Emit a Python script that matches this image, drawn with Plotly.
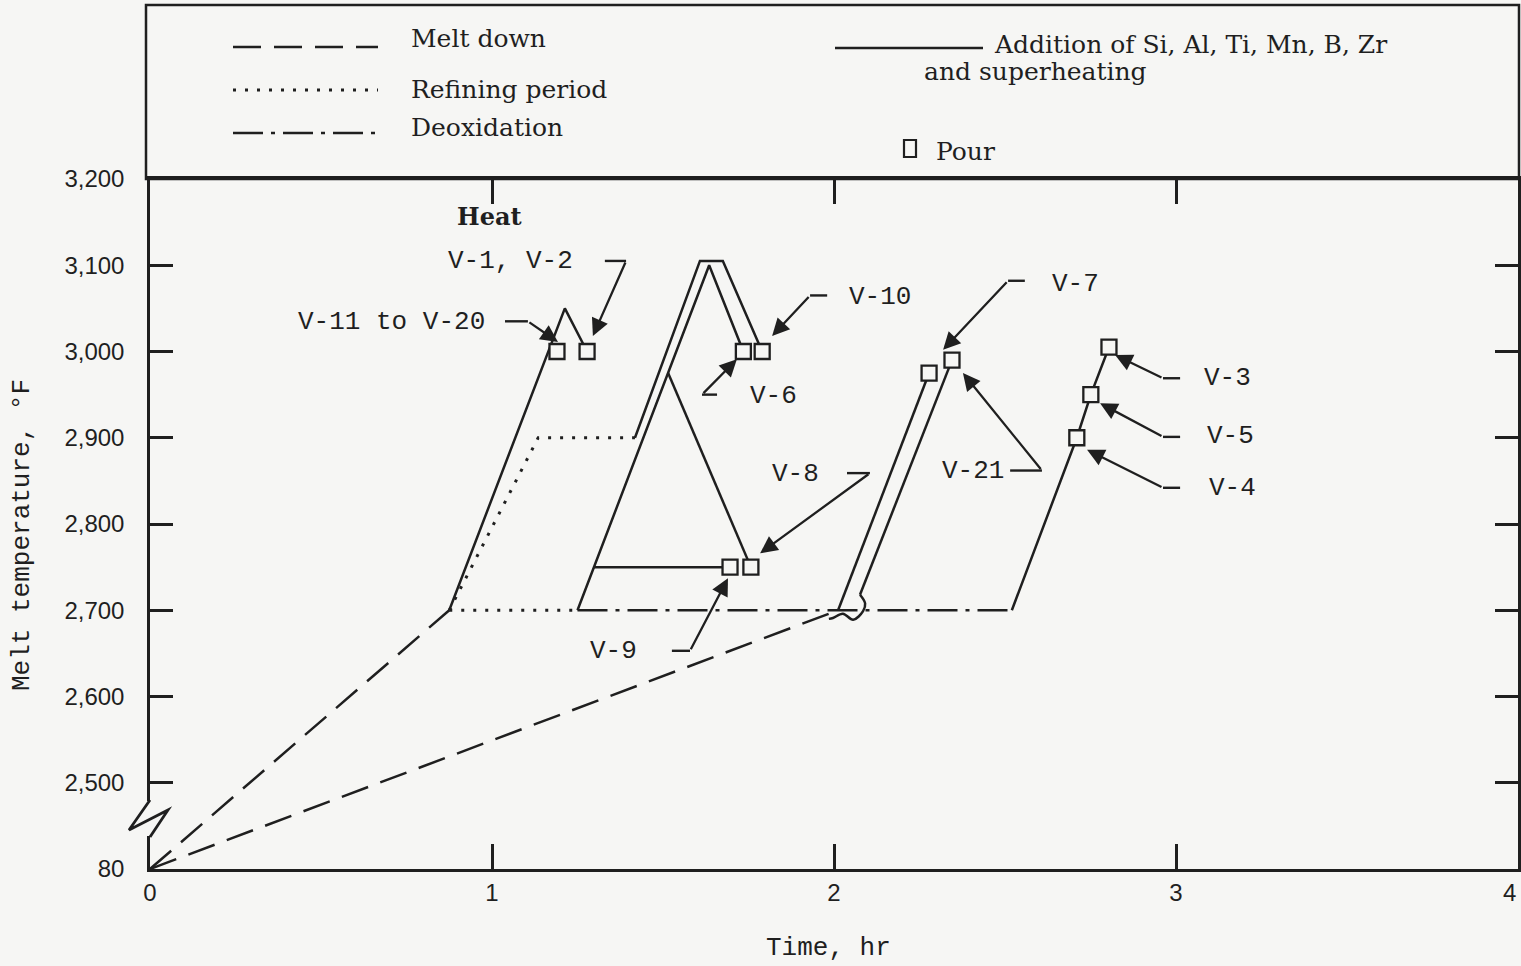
import plotly.graph_objects as go

# ---------------- data (time in hr, temperature in deg F; 2400 on the axis is the broken "80" level)
melt1_t = [0, 0.875]
melt1_T = [2400, 2700]
melt2_t = [0, 2.012]
melt2_T = [2400, 2700]

refine_a_t = [0.875, 1.135, 1.418]
refine_a_T = [2700, 2900, 2900]
refine_b_t = [0.875, 1.25]
refine_b_T = [2700, 2700]

deox_t = [1.25, 2.52]
deox_T = [2700, 2700]

add_v11_t = [0.875, 1.213, 1.278]
add_v11_T = [2700, 3050, 3000]
add_v10_t = [1.418, 1.608, 1.675, 1.79]
add_v10_T = [2900, 3105, 3105, 3000]
add_v6_t = [1.25, 1.635, 1.735]
add_v6_T = [2700, 3100, 3000]
add_v8_t = [1.515, 1.757]
add_v8_T = [2975, 2750]
add_v9_t = [1.298, 1.696]
add_v9_T = [2750, 2750]
add_v7_t = [2.012, 2.278]
add_v7_T = [2700, 2975]
add_v21_t = [2.076, 2.345]
add_v21_T = [2718, 2990]
curl_t = [1.985, 1.997, 2.026, 2.056, 2.085, 2.091, 2.076]
curl_T = [2690, 2691, 2696, 2689, 2699, 2708, 2718]
add_v345_t = [2.52, 2.71, 2.751, 2.804]
add_v345_T = [2700, 2900, 2950, 3005]

pour_heat = ["V-11 to V-20", "V-1, V-2", "V-6", "V-10", "V-9", "V-8", "V-7", "V-21", "V-4", "V-5", "V-3"]
pour_t = [1.19, 1.278, 1.735, 1.79, 1.696, 1.757, 2.278, 2.345, 2.71, 2.751, 2.804]
pour_T = [3000, 3000, 3000, 3000, 2750, 2750, 2975, 2990, 2900, 2950, 3005]

label_text = ["V-1, V-2", "V-11 to V-20", "V-10", "V-6", "V-8", "V-9", "V-7", "V-21", "V-3", "V-5", "V-4"]
label_t = [1.053, 0.705, 2.135, 1.822, 1.886, 1.354, 2.705, 2.406, 3.152, 3.158, 3.164]
label_T = [3105, 3034, 3063, 2948, 2858, 2653, 3078, 2861, 2969, 2902, 2842]
stub_t0 = [1.330, 1.038, 1.930, 1.614, 2.038, 1.526, 2.509, 2.515, 2.962, 2.962, 2.962]
stub_t1 = [1.392, 1.105, 1.980, 1.658, 2.105, 1.579, 2.558, 2.608, 3.012, 3.012, 3.012]
stub_T = [3105, 3035, 3065, 2950, 2859, 2653, 3082, 2862, 2969, 2901, 2842]
tail_t = [1.392, 1.105, 1.930, 1.614, 2.105, 1.579, 2.509, 2.608, 2.962, 2.962, 2.962]
tail_T = [3105, 3035, 3065, 2950, 2859, 2653, 3082, 2862, 2969, 2901, 2842]
head_t = [1.295, 1.193, 1.819, 1.716, 1.784, 1.690, 2.319, 2.377, 2.822, 2.778, 2.740]
head_T = [3018, 3011, 3018, 2991, 2766, 2737, 3002, 2975, 2996, 2940, 2886]

y_ticks = [2400, 2500, 2600, 2700, 2800, 2900, 3000, 3100, 3200]
y_ticktext = ["80", "2,500", "2,600", "2,700", "2,800", "2,900", "3,000", "3,100", "3,200"]
x_ticks = [0, 1, 2, 3, 4]
x_ticktext = ["0", "1", "2", "3", "4"]

legend_items = ["Melt down", "Refining period", "Deoxidation",
                "Addition of Si, Al, Ti, Mn, B, Zr", "and superheating", "Pour"]

# ---------------- styles
INK = "#1f1f1f"
BG = "#f6f6f4"
LW = 2.5
DASH = "28px,13px"
DOT = "3px,9px"
DASHDOT = "30px,8px,4px,8px"
MONO = "Liberation Mono"
SERIF = "DejaVu Serif"
SANS = "Liberation Sans"

# page geometry (pixels) for paper conversions
L, R, T, B = 150, 3, 179, 97
W, H = 1521, 966
PW, PH = W - L - R, H - T - B


def px(xp):
    return (xp - L) / PW


def py(yp):
    return (H - B - yp) / PH


fig = go.Figure()


def line(t, temp, dash="solid", width=LW, shape="linear"):
    fig.add_trace(go.Scatter(x=t, y=temp, mode="lines",
                             line=dict(color=INK, width=width, dash=dash, shape=shape),
                             hoverinfo="skip", showlegend=False))


line(melt1_t, melt1_T, DASH)
line(melt2_t, melt2_T, DASH)
line(refine_a_t, refine_a_T, DOT, 3)
line(refine_b_t, refine_b_T, DOT, 3)
line(deox_t, deox_T, DASHDOT)
for tt, TT in [(add_v11_t, add_v11_T), (add_v10_t, add_v10_T), (add_v6_t, add_v6_T),
               (add_v8_t, add_v8_T), (add_v9_t, add_v9_T), (add_v7_t, add_v7_T),
               (add_v21_t, add_v21_T), (add_v345_t, add_v345_T)]:
    line(tt, TT)
line(curl_t, curl_T, "solid", LW, "spline")

# leader stubs
st_x, st_y = [], []
for a, b, c in zip(stub_t0, stub_t1, stub_T):
    st_x += [a, b, None]
    st_y += [c, c, None]
fig.add_trace(go.Scatter(x=st_x, y=st_y, mode="lines", line=dict(color=INK, width=2.4),
                         hoverinfo="skip", showlegend=False))

# pour markers
fig.add_trace(go.Scatter(x=pour_t, y=pour_T, mode="markers", text=pour_heat,
                         marker=dict(symbol="square", size=15, color=BG,
                                     line=dict(color=INK, width=2.3)),
                         hoverinfo="text", showlegend=False))

ann = []
for txt, x, y in zip(label_text, label_t, label_T):
    ann.append(dict(x=x, y=y, xref="x", yref="y", text=txt, showarrow=False,
                    xanchor="center", yanchor="middle",
                    font=dict(family=MONO, size=26, color=INK)))
for a, b, c, d in zip(tail_t, tail_T, head_t, head_T):
    ann.append(dict(x=c, y=d, ax=a, ay=b, xref="x", yref="y", axref="x", ayref="y",
                    text="", showarrow=True, arrowhead=2, arrowsize=1.5, arrowwidth=2.3,
                    arrowcolor=INK, standoff=0, startstandoff=0))
ann.append(dict(x=0.994, y=3156, xref="x", yref="y", text="<b>Heat</b>", showarrow=False,
                xanchor="center", yanchor="middle",
                font=dict(family=SERIF, size=24, color=INK)))

# last x tick label, kept inside the page at the right edge
ann.append(dict(x=x_ticks[-1], y=py(892), xref="x", yref="paper", text=x_ticktext[-1],
                showarrow=False, xanchor="right", yanchor="middle",
                font=dict(family=SANS, size=24, color=INK)))
x_ticktext_axis = x_ticktext[:-1] + [""]

# legend texts
leg_pos = [(409, 38), (409, 89), (409, 127), (992, 44), (922, 72), (934, 151)]
for txt, (xp_, yp_) in zip(legend_items, leg_pos):
    ann.append(dict(x=px(xp_), y=py(yp_), xref="paper", yref="paper", text=txt,
                    showarrow=False, xanchor="left", yanchor="middle",
                    font=dict(family=SERIF, size=25, color=INK)))

# axis titles
ann.append(dict(x=px(22), y=py(535), xref="paper", yref="paper", text="Melt temperature, °F",
                textangle=-90, showarrow=False, xanchor="center", yanchor="middle",
                font=dict(family=MONO, size=26, color=INK)))
ann.append(dict(x=px(828), y=py(948), xref="paper", yref="paper", text="Time, hr",
                showarrow=False, xanchor="center", yanchor="middle",
                font=dict(family=MONO, size=26, color=INK)))

shapes = []
# legend box
shapes.append(dict(type="rect", xref="paper", yref="paper", x0=px(146), x1=px(1519),
                   y0=1.0, y1=py(5), line=dict(color=INK, width=2.5), layer="above"))
# legend samples
for dash, yp_, w in [(DASH, 47, LW), (DOT, 90, 3), (DASHDOT, 133, LW)]:
    shapes.append(dict(type="line", xref="paper", yref="paper", x0=px(233), x1=px(378),
                       y0=py(yp_), y1=py(yp_), line=dict(color=INK, width=w, dash=dash)))
shapes.append(dict(type="line", xref="paper", yref="paper", x0=px(835), x1=px(983),
                   y0=py(48), y1=py(48), line=dict(color=INK, width=LW)))
shapes.append(dict(type="rect", xref="paper", yref="paper", x0=px(904), x1=px(916),
                   y0=py(157), y1=py(140), line=dict(color=INK, width=2.2)))
# axis break: hide the line then draw the zigzag
shapes.append(dict(type="rect", xref="paper", yref="paper", x0=px(140), x1=px(156),
                   y0=py(836), y1=py(801), line=dict(width=0), fillcolor=BG, layer="above"))
zz = [(150, 800), (129, 830), (168, 810), (150, 837)]
path = "M " + " L ".join(f"{px(a):.5f},{py(b):.5f}" for a, b in zz)
shapes.append(dict(type="path", xref="paper", yref="paper", path=path,
                   line=dict(color=INK, width=2.8), layer="above"))

fig.update_layout(
    width=W, height=H, margin=dict(l=L, r=R, t=T, b=B, pad=0, autoexpand=False),
    paper_bgcolor=BG, plot_bgcolor=BG,
    annotations=ann, shapes=shapes, showlegend=False,
    xaxis=dict(range=[0, 4], tickvals=x_ticks, ticktext=x_ticktext_axis, showgrid=False,
               zeroline=False, showline=True, mirror="ticks", linecolor=INK, linewidth=2.5,
               ticks="inside", ticklen=25, tickwidth=2.5, tickcolor=INK,
               automargin=False,
               tickfont=dict(family=SANS, size=24, color=INK), ticklabelstandoff=0),
    yaxis=dict(range=[2400, 3200], tickvals=y_ticks, ticktext=y_ticktext, showgrid=False,
               zeroline=False, showline=True, mirror="ticks", linecolor=INK, linewidth=2.5,
               ticks="inside", ticklen=23, tickwidth=2.5, tickcolor=INK, automargin=False,
               tickfont=dict(family=SANS, size=24, color=INK), ticklabelstandoff=18),
)

fig.write_html("out.html")
